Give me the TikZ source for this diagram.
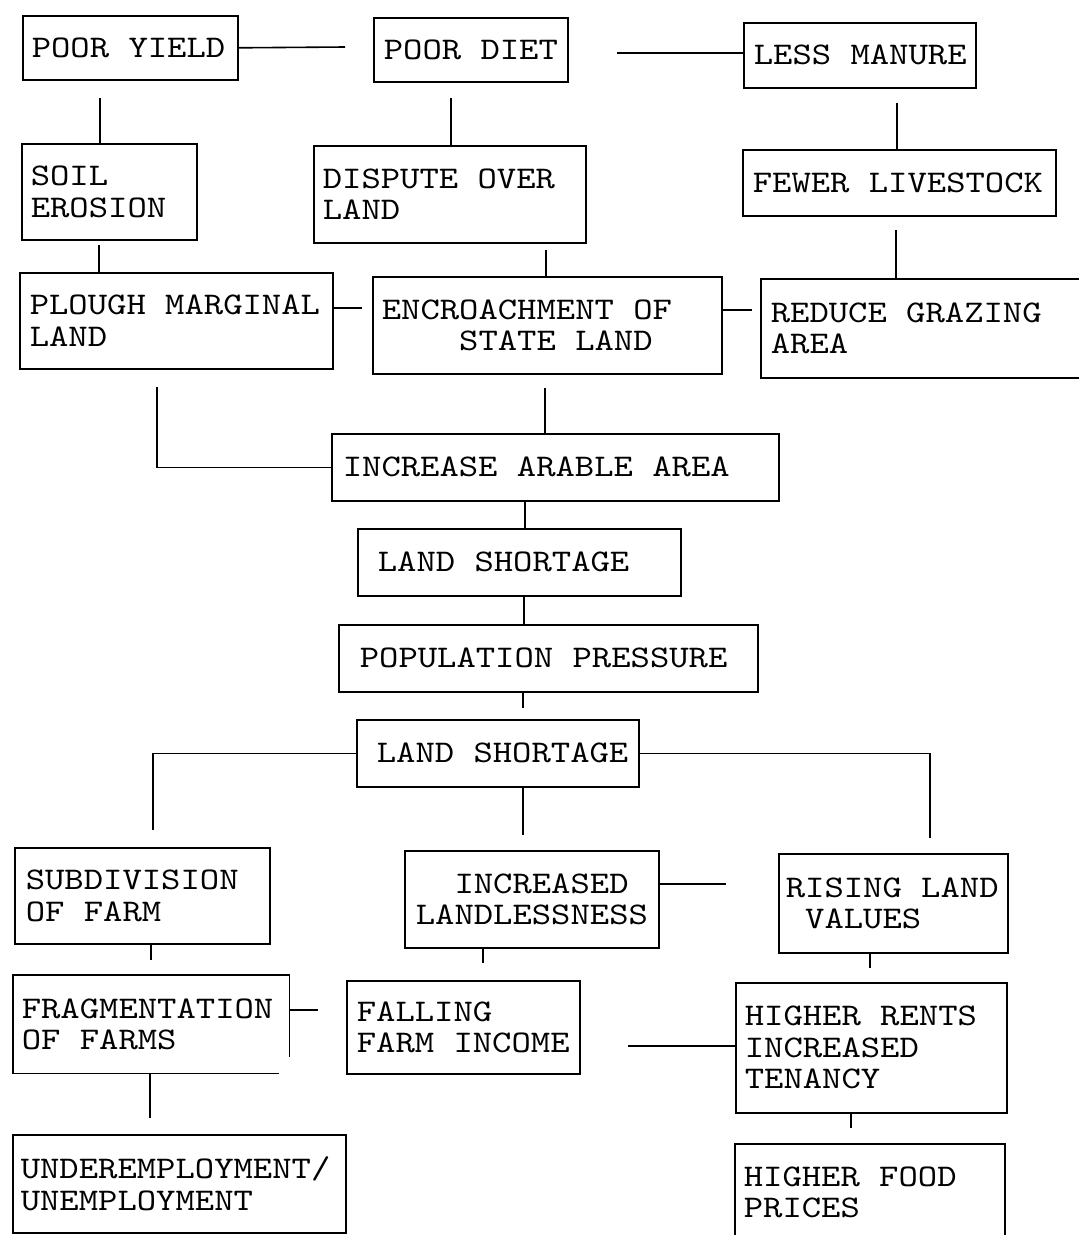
\documentclass[tikz,border=0pt]{standalone}
\usepackage{fontspec}
\newfontfamily\boxfont[FakeStretch=1.17]{lmmono10-regular.otf}
\DeclareRobustCommand\boxtext{\boxfont\fontsize{31.5}{31.5}\selectfont}

\begin{document}
\begin{tikzpicture}[x=1pt,y=-1pt,line width=1.6pt,
    box/.style={draw,anchor=north west,inner xsep=0pt,inner ysep=0pt,align=left,font=\boxtext},
    lpad/.style={execute at begin node={\leftskip=#1\spaceskip=19.35pt\relax}}]
  \useasboundingbox (0,0) rectangle (1079,1235);
  \clip (0,0) rectangle (1079,1235);
  % upper boxes
  \node[box,text width=215pt,minimum height=64pt,lpad=9pt] (yield) at (22,15) {POOR YIELD};
  \node[box,text width=194pt,minimum height=64pt,lpad=10pt] (diet) at (373,17) {POOR DIET};
  \node[box,text width=232pt,minimum height=65pt,lpad=10pt] (manure) at (743,22) {LESS MANURE};
  \node[box,text width=175pt,minimum height=96pt,lpad=9pt] (soil) at (21,143) {SOIL\\EROSION};
  \node[box,text width=272pt,minimum height=97pt,lpad=9pt] (dispute) at (313,145) {DISPUTE OVER\\LAND};
  \node[box,text width=313pt,minimum height=66pt,lpad=10pt] (fewer) at (742,149) {FEWER LIVESTOCK};
  \node[box,text width=313pt,minimum height=96pt,lpad=10pt] (plough) at (19,272) {PLOUGH MARGINAL\\LAND};
  \node[box,text width=349pt,minimum height=97pt,lpad=9pt] (encroach) at (372,276) {ENCROACHMENT OF\\\phantom{XXXX}STATE LAND};
  \node[box,text width=340pt,minimum height=99pt,lpad=10pt] (grazing) at (760,278) {REDUCE GRAZING\\AREA};
  % middle column
  \node[box,text width=447pt,minimum height=67pt,lpad=11pt] (arable) at (331,433) {INCREASE ARABLE AREA};
  \node[box,text width=323pt,minimum height=67pt,lpad=20pt] (short1) at (357,528) {LAND SHORTAGE};
  \node[box,text width=419pt,minimum height=67pt,lpad=21pt] (pressure) at (338,624) {POPULATION PRESSURE};
  \node[box,text width=282pt,minimum height=67pt,lpad=20pt] (short2) at (356,719) {LAND SHORTAGE};
  % lower boxes
  \node[box,text width=255pt,minimum height=96pt,lpad=11pt] (subdiv) at (14,847) {SUBDIVISION\\OF FARM};
  \node[box,text width=254pt,minimum height=97pt,lpad=11pt] (landless) at (404,850) {\phantom{XX}INCREASED\\LANDLESSNESS};
  \node[box,text width=229pt,minimum height=99pt,lpad=7pt] (rising) at (778,853) {RISING LAND\\\phantom{X}VALUES};
  \node[box,draw=none,text width=275pt,minimum height=97pt,lpad=8pt] (frag) at (13,975) {FRAGMENTATION\\OF FARMS};
  \draw (frag.south west) -- (frag.north west) -- (frag.north east) -- ++(0,82);
  \draw (frag.south west) -- ++(266,0);
  \node[box,text width=233pt,minimum height=93pt,lpad=10pt] (falling) at (346,980) {FALLING\\FARM INCOME};
  \node[box,text width=271pt,minimum height=130pt,lpad=9pt] (rents) at (735,982) {HIGHER RENTS\\INCREASED\\TENANCY};
  \node[box,text width=333pt,minimum height=98pt,lpad=8pt] (under) at (12,1134) {UNDEREMPLOYMENT/\\UNEMPLOYMENT};
  \node[box,text width=270pt,minimum height=97pt,lpad=9pt] (food) at (734,1143) {HIGHER FOOD\\PRICES};
  % loose ends of the links
  \coordinate (yd) at (345,47);
  \coordinate (dm) at (617,53);
  \coordinate (ys) at (100,98);
  \coordinate (dd) at (451,98);
  \coordinate (mf) at (897,103);
  \coordinate (sp) at (99,245);
  \coordinate (de) at (546,250);
  \coordinate (fg) at (896,230);
  \coordinate (pe) at (362,308);
  \coordinate (eg) at (752,310);
  \coordinate (ea) at (545,388);
  \coordinate (pa) at (157,387);
  \coordinate (as) at (525,515);
  \coordinate (sq) at (524,610);
  \coordinate (pd) at (523,708);
  \coordinate (ls) at (153,830);
  \coordinate (ll) at (523,835);
  \coordinate (lr) at (930,838);
  \coordinate (lv) at (726,884);
  \coordinate (rr) at (870,968);
  \coordinate (sf) at (151,960);
  \coordinate (lf) at (483,963);
  \coordinate (ff) at (318,1010);
  \coordinate (fr) at (628,1046);
  \coordinate (fu) at (150,1118);
  \coordinate (hf) at (851,1128);
  % links
  \draw (yield.east) -- (yd);
  \draw (dm) -- (dm -| manure.west);
  \draw (ys) -- (ys |- soil.north);
  \draw (dd) -- (dd |- dispute.north);
  \draw (mf) -- (mf |- fewer.north);
  \draw (sp) -- (sp |- plough.north);
  \draw (de) -- (de |- encroach.north);
  \draw (fg) -- (fg |- grazing.north);
  \draw (pe -| plough.east) -- (pe);
  \draw (eg -| encroach.east) -- (eg);
  \draw (ea) -- (ea |- arable.north);
  \draw (pa) |- (arable.west);
  \draw (arable.south -| as) -- (short1.north -| as);
  \draw (short1.south -| sq) -- (pressure.north -| sq);
  \draw (pressure.south -| pd) -- (pd);
  \draw (short2.west) -| (ls);
  \draw (short2.south -| ll) -- (ll);
  \draw (short2.east) -| (lr);
  \draw (lv -| landless.east) -- (lv);
  \draw (rising.south -| rr) -- (rr);
  \draw (subdiv.south -| sf) -- (sf);
  \draw (landless.south -| lf) -- (lf);
  \draw (ff -| frag.east) -- (ff);
  \draw (fr) -- (fr -| rents.west);
  \draw (frag.south -| fu) -- (fu);
  \draw (rents.south -| hf) -- (hf);
\end{tikzpicture}
\end{document}
